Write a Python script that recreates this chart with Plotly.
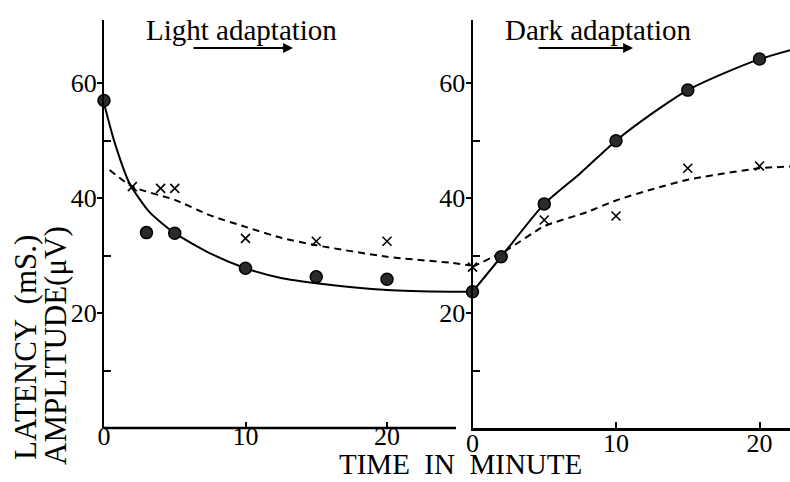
import plotly.graph_objects as go
from plotly.subplots import make_subplots

# ---- data ----
# Light adaptation panel
amp_light_t = [0, 3, 5, 10, 15, 20]
amp_light = [57.0, 34.0, 33.9, 27.8, 26.3, 25.9]
lat_light_t = [2, 4, 5, 10, 15, 20]
lat_light = [42.0, 41.7, 41.7, 33.0, 32.5, 32.5]
fit_amp_light_t = [0, 0.7, 1.8, 3.2, 5, 7.5, 10, 12.5, 15, 20, 24.5, 25.9]
fit_amp_light = [56.5, 50.1, 42.6, 37.6, 33.9, 30.4, 27.8, 26.1, 25.2, 24.0, 23.7, 23.7]
fit_lat_light_t = [0.4, 2, 5, 7.5, 10, 12.5, 15, 20, 24.5, 25.9]
fit_lat_light = [44.9, 42.0, 39.7, 37.0, 35.0, 33.1, 31.8, 29.8, 28.75, 28.3]

# Dark adaptation panel
amp_dark_t = [0, 2, 5, 10, 15, 20]
amp_dark = [23.7, 29.8, 39.0, 50.0, 58.8, 64.2]
lat_dark_t = [0, 5, 10, 15, 20]
lat_dark = [28.0, 36.2, 36.9, 45.2, 45.6]
fit_amp_dark_t = [0, 2, 5, 7.5, 10, 12.5, 15, 17.5, 20, 22.2]
fit_amp_dark = [23.7, 29.8, 39.0, 44.3, 50.0, 54.7, 58.8, 61.7, 64.2, 65.8]
fit_lat_dark_t = [0, 2.4, 5, 8, 10, 12.6, 15, 20, 22.2]
fit_lat_dark = [28.05, 31.0, 35.1, 37.6, 39.6, 41.6, 43.2, 45.2, 45.5]

x_ticks = [0, 10, 20]
y_major = [20, 40, 60]
y_minor = [10, 30, 50]

FONT = "Liberation Serif"
W, H = 790, 482
L, R, T, B = 104, 0, 20, 54
PW, PH = W - L - R, H - T - B

def px_x(p):
    return (p - L) / PW

def px_y(p):
    return (H - B - p) / PH

left_dom = [0, px_x(470)]
right_dom = [px_x(472.5), 1]
left_range = [0, (470 - 104) / 14.15]
right_range = [0, (790 - 472.5) / 14.35]
y_range = [0, 71]

fig = make_subplots(rows=1, cols=2)

circle = dict(symbol="circle", size=12, color="#2a2a2a", line=dict(color="black", width=1.5))
cross = dict(symbol="x-thin", size=9, color="black", line=dict(color="black", width=1.6))
solid = dict(color="black", width=2, shape="spline", smoothing=0.6)
dashed = dict(color="black", width=2, dash="7px,5px", shape="spline", smoothing=0.6)

for col, (ft, fa, lt, la, at, aa, xt, xa) in enumerate([
    (fit_amp_light_t, fit_amp_light, fit_lat_light_t, fit_lat_light,
     amp_light_t, amp_light, lat_light_t, lat_light),
    (fit_amp_dark_t, fit_amp_dark, fit_lat_dark_t, fit_lat_dark,
     amp_dark_t, amp_dark, lat_dark_t, lat_dark)], start=1):
    fig.add_trace(go.Scatter(x=ft, y=fa, mode="lines", line=solid, hoverinfo="skip"), row=1, col=col)
    fig.add_trace(go.Scatter(x=lt, y=la, mode="lines", line=dashed, hoverinfo="skip"), row=1, col=col)
    fig.add_trace(go.Scatter(x=at, y=aa, mode="markers", marker=circle, cliponaxis=False), row=1, col=col)
    fig.add_trace(go.Scatter(x=xt, y=xa, mode="markers", marker=cross, cliponaxis=False), row=1, col=col)

tickfont = dict(family=FONT, size=26, color="black")

fig.update_layout(
    width=W, height=H, margin=dict(l=L, r=R, t=T, b=B),
    paper_bgcolor="white", plot_bgcolor="white", showlegend=False,
    font=dict(family=FONT, color="black"),
)

fig.update_xaxes(domain=left_dom, range=left_range, row=1, col=1, showline=False)
fig.update_xaxes(domain=right_dom, range=right_range, row=1, col=2, showline=True,
                 linecolor="black", linewidth=2.5)
fig.update_xaxes(tickvals=x_ticks, ticktext=[str(v) for v in x_ticks], ticks="inside",
                 ticklen=6, tickwidth=1.5, tickcolor="black", showgrid=False, zeroline=False,
                 tickfont=tickfont, ticklabelstandoff=-10)
fig.update_yaxes(range=y_range, tickvals=y_major, ticks="outside", ticklen=5, tickwidth=1.5,
                 tickcolor="black", showgrid=False, zeroline=False, showline=True,
                 linecolor="black", linewidth=2, tickfont=tickfont, ticklabelstandoff=-5,
                 minor=dict(tickvals=y_minor, ticks="inside", ticklen=7, tickwidth=1.5,
                            tickcolor="black", showgrid=False))

# bottom axis line of the left panel (ends before the panel gap)
fig.add_shape(type="line", xref="x", yref="paper", x0=0, x1=(456 - 104) / 14.15, y0=0, y1=0,
              line=dict(color="black", width=2.5))

def label(text, px, py, size, angle=0):
    return dict(text=text, xref="paper", yref="paper", x=px_x(px), y=px_y(py),
                xanchor="center", yanchor="middle", textangle=angle, showarrow=False,
                font=dict(family=FONT, size=size, color="black"))

ann = [
    label("Light adaptation", 241, 30, 29),
    label("Dark adaptation", 598, 30, 29),
    label("TIME  IN  MINUTE", 460, 464, 29),
    label("LATENCY  (mS.)", 25, 348, 31, -90),
    label("AMPLITUDE(μV)", 55, 346, 31, -90),
]
for head, tail in [(293, 192), (633, 537)]:
    ann.append(dict(text="", xref="paper", yref="paper", x=px_x(head), y=px_y(48),
                    ax=tail - head, ay=0, showarrow=True, arrowhead=2, arrowsize=1.1,
                    arrowwidth=1.8, arrowcolor="black"))
fig.update_layout(annotations=ann)

fig.write_html("out.html")
